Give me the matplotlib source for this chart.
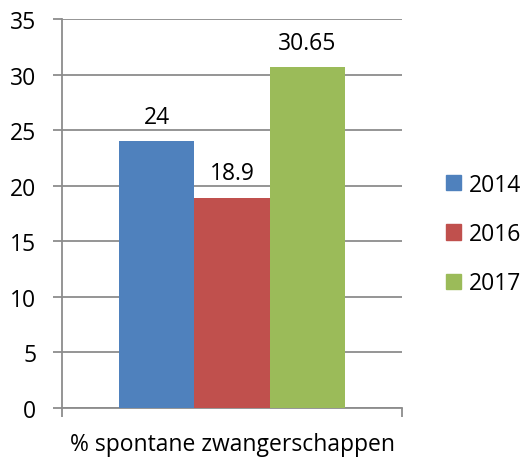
import matplotlib
matplotlib.use('agg')
from matplotlib import pyplot as plt
from matplotlib.patches import Patch

plt.rcParams['font.family'] = ['Open Sans', 'DejaVu Sans']

category = '% spontane zwangerschappen'
years = ['2014', '2016', '2017']
values = [24, 18.9, 30.65]
colors = ['#4F81BD', '#C0504D', '#9BBB59']

fig = plt.figure(figsize=(5.25, 4.6), dpi=100)
ax = fig.add_axes([62 / 525, 1 - 409 / 460, 340 / 525, 389 / 460])

bar_w = 0.665 / 3
for i, (yr, v, c) in enumerate(zip(years, values, colors)):
    x = (i - 1) * bar_w
    ax.bar(x, v, width=bar_w, color=c, label=yr, zorder=3)
    ax.annotate(f'{v:g}', xy=(x, v), xytext=(0, 9), textcoords='offset points',
                ha='center', va='bottom', fontsize=16.5, color='black')

grid_c = '#8C8C8C'
ax.set_xlim(-0.5, 0.5)
ax.set_ylim(0, 35)
ax.set_yticks(range(0, 36, 5))
ax.yaxis.grid(True, color=grid_c, lw=1.3, zorder=0)
for s in ['top', 'right']:
    ax.spines[s].set_visible(False)
for s in ['left', 'bottom']:
    ax.spines[s].set_color(grid_c)
    ax.spines[s].set_linewidth(1.3)

ax.set_xticks([-0.5, 0.5])
ax.set_xticklabels(['', ''])
ax.set_xticks([0], minor=True)
ax.set_xticklabels([category], minor=True)
ax.tick_params(axis='x', which='major', length=6.5, width=1.3, color=grid_c)
ax.tick_params(axis='x', which='minor', length=0, pad=17, labelsize=16.5)
ax.tick_params(axis='y', length=6.5, width=1.3, color=grid_c, labelsize=16.5, pad=12)

handles = [Patch(color=c, label=y) for y, c in zip(years, colors)]
fig.legend(handles=handles, loc='center left', bbox_to_anchor=(446 / 525, 1 - 235 / 460),
           frameon=False, fontsize=16.5, handlelength=0.65, handleheight=0.65,
           handletextpad=0.35, labelspacing=1.1, borderpad=0, borderaxespad=0)

fig.savefig('out.png', dpi=100)
